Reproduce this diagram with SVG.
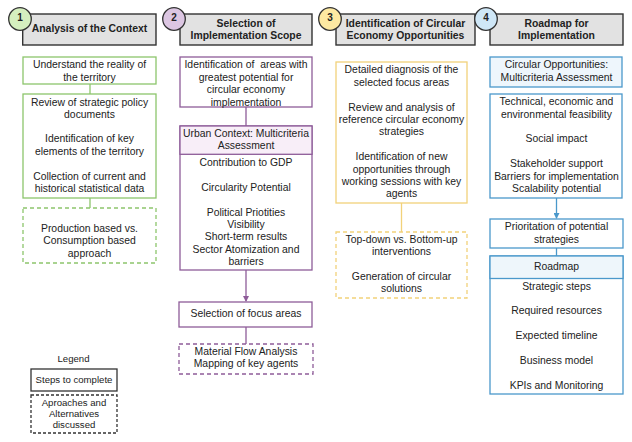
<svg xmlns="http://www.w3.org/2000/svg" width="632" height="442" viewBox="0 0 632 442">
<style>
text{font-family:"Liberation Sans",Arial,sans-serif;font-size:10.4px;fill:#222;text-anchor:middle}
.h{font-weight:bold;font-size:10.4px}
.n{font-weight:bold;font-size:10px}
.lg{font-size:9.6px}
.pre{white-space:pre}
.hdr{fill:#e2e2e2;stroke:#333;stroke-width:1.4}
.circ{stroke:#333;stroke-width:1.3}
.g{fill:#fff;stroke:#8dc56c;stroke-width:1.3}
.p{fill:#fff;stroke:#8e5c99;stroke-width:1.3}
.y{fill:#fff;stroke:#f2d27a;stroke-width:1.3}
.b{fill:#fff;stroke:#4a98cb;stroke-width:1.3}
.d{stroke-dasharray:4 3}
.cg{stroke:#8dc56c;stroke-width:1.3;fill:none}
.cp{stroke:#8e5c99;stroke-width:1.3;fill:none}
.cy{stroke:#f2d27a;stroke-width:1.3;fill:none}
.cb{stroke:#4a98cb;stroke-width:1.3;fill:none}
</style>
<defs>
<marker id="ap" markerWidth="6" markerHeight="6" refX="5" refY="3" orient="auto" markerUnits="userSpaceOnUse"><path d="M0,0 L6,3 L0,6 Z" fill="#8e5c99"/></marker>
<marker id="ab" markerWidth="6" markerHeight="6" refX="5" refY="3" orient="auto" markerUnits="userSpaceOnUse"><path d="M0,0 L6,3 L0,6 Z" fill="#4a98cb"/></marker>
</defs>
<rect width="632" height="442" fill="#fff"/>

<g id="connectors">
<line class="cg" x1="90" y1="84" x2="90" y2="94"/>
<line class="cg" x1="90" y1="198" x2="90" y2="208"/>
<line class="cp" x1="246" y1="107" x2="246" y2="126"/>
<line class="cp" x1="246" y1="270" x2="246" y2="301" marker-end="url(#ap)"/>
<line class="cp" x1="246" y1="327" x2="246" y2="344"/>
<line class="cy" x1="401.5" y1="203" x2="401.5" y2="232"/>
<line class="cb" x1="556.5" y1="198" x2="556.5" y2="218" marker-end="url(#ab)"/>
<line class="cb" x1="556.5" y1="248" x2="556.5" y2="256"/>
</g>

<g id="header1">
<rect class="hdr" x="22.7" y="14" width="133.3" height="31"/>
<circle class="circ" cx="20" cy="19" r="11.3" fill="#d5efbf"/>
<text class="n" x="20" y="20.5">1</text>
<text class="h" x="89.5" y="32">Analysis of the Context</text>
</g>
<g id="header2">
<rect class="hdr" x="180" y="14" width="132" height="31"/>
<circle class="circ" cx="174" cy="19" r="11.3" fill="#dcc6e2"/>
<text class="n" x="174" y="20.5">2</text>
<text class="h" x="246" y="26.5">Selection of</text>
<text class="h" x="246" y="38.5">Implementation Scope</text>
</g>
<g id="header3">
<rect class="hdr" x="336" y="14" width="139" height="31"/>
<circle class="circ" cx="330" cy="19" r="11.3" fill="#fde9a2"/>
<text class="n" x="330" y="20.5">3</text>
<text class="h" x="405.5" y="26.5">Identification of Circular</text>
<text class="h" x="405.5" y="38.5">Economy Opportunities</text>
</g>
<g id="header4">
<rect class="hdr" x="490" y="14" width="133" height="31"/>
<circle class="circ" cx="486" cy="19" r="11.3" fill="#cfe7f7"/>
<text class="n" x="486" y="20.5">4</text>
<text class="h" x="556.5" y="26.5">Roadmap for</text>
<text class="h" x="556.5" y="38.5">Implementation</text>
</g>

<g id="c1-understand">
<rect class="g" x="23" y="57" width="133" height="27"/>
<text x="89.5" y="68">Understand the reality of</text>
<text x="89.5" y="80.5">the territory</text>
</g>
<g id="c1-review">
<rect class="g" x="23" y="94" width="133" height="104"/>
<text x="89.5" y="105.5">Review of strategic policy</text>
<text x="89.5" y="118">documents</text>
<text x="89.5" y="142">Identification of key</text>
<text x="89.5" y="155">elements of the territory</text>
<text x="89.5" y="179.5">Collection of current and</text>
<text x="89.5" y="192">historical statistical data</text>
</g>
<g id="c1-approach">
<rect class="g d" x="23" y="208" width="133" height="55"/>
<text x="89.5" y="231.5">Production based vs.</text>
<text x="89.5" y="244">Consumption based</text>
<text x="89.5" y="256.5">approach</text>
</g>

<g id="c2-areas">
<rect class="p" x="180" y="57" width="132" height="50"/>
<text class="pre" x="246" y="68">Identification of  areas with</text>
<text x="246" y="80.5">greatest potential for</text>
<text x="246" y="93">circular economy</text>
<text x="246" y="105.5">implementation</text>
</g>
<g id="c2-urban">
<rect class="p" x="180" y="126" width="132" height="144"/>
<rect x="180" y="126" width="132" height="28.3" fill="#f8eef8" stroke="#8e5c99" stroke-width="1.3"/>
<text x="246" y="136.5">Urban Context: Multicriteria</text>
<text x="246" y="149">Assessment</text>
<text x="246" y="166">Contribution to GDP</text>
<text x="246" y="190.5">Circularity Potential</text>
<text x="246" y="215.5">Political Priotities</text>
<text x="246" y="228">Visibility</text>
<text x="246" y="240">Short-term results</text>
<text x="246" y="252.5">Sector Atomization and</text>
<text x="246" y="265">barriers</text>
</g>
<g id="c2-focus">
<rect class="p" x="179" y="302" width="133" height="25"/>
<text x="246" y="317">Selection of focus areas</text>
</g>
<g id="c2-mfa">
<rect class="p d" x="179" y="344" width="134" height="30"/>
<text x="246" y="355">Material Flow Analysis</text>
<text x="246" y="367">Mapping of key agents</text>
</g>

<g id="c3-diagnosis">
<rect class="y" x="336" y="62" width="131" height="141"/>
<text x="401.5" y="73">Detailed diagnosis of the</text>
<text x="401.5" y="85.5">selected focus areas</text>
<text x="401.5" y="110.5">Review and analysis of</text>
<text x="401.5" y="123">reference circular economy</text>
<text x="401.5" y="135">strategies</text>
<text x="401.5" y="160">Identification of new</text>
<text x="401.5" y="172.5">opportunities through</text>
<text x="401.5" y="185">working sessions with key</text>
<text x="401.5" y="197">agents</text>
</g>
<g id="c3-topdown">
<rect class="y d" x="336" y="232" width="131" height="66"/>
<text x="401.5" y="243">Top-down vs. Bottom-up</text>
<text x="401.5" y="255">interventions</text>
<text x="401.5" y="280">Generation of circular</text>
<text x="401.5" y="292">solutions</text>
</g>

<g id="c4-opps">
<rect x="490" y="57" width="132" height="30" fill="#eef6fc" stroke="#4a98cb" stroke-width="1.3"/>
<text x="556.5" y="68">Circular Opportunities:</text>
<text x="556.5" y="80.5">Multicriteria Assessment</text>
</g>
<g id="c4-feasibility">
<rect class="b" x="490" y="94" width="132" height="104"/>
<text x="556.5" y="105">Technical, economic and</text>
<text x="556.5" y="117.5">environmental feasibility</text>
<text x="556.5" y="142">Social impact</text>
<text x="556.5" y="167">Stakeholder support</text>
<text x="556.5" y="179.5">Barriers for implementation</text>
<text x="556.5" y="192">Scalability potential</text>
</g>
<g id="c4-prior">
<rect class="b" x="490" y="219" width="133" height="29"/>
<text x="556.5" y="230">Prioritation of potential</text>
<text x="556.5" y="243">strategies</text>
</g>
<g id="c4-roadmap">
<rect class="b" x="490" y="256" width="133" height="138"/>
<rect x="490" y="256" width="133" height="22.5" fill="#eef6fb" stroke="#4a98cb" stroke-width="1.3"/>
<text x="556.5" y="269.5">Roadmap</text>
<text x="556.5" y="289.5">Strategic steps</text>
<text x="556.5" y="314">Required resources</text>
<text x="556.5" y="339">Expected timeline</text>
<text x="556.5" y="364">Business model</text>
<text x="556.5" y="389">KPIs and Monitoring</text>
</g>

<g id="legend">
<text class="lg" x="73.5" y="362">Legend</text>
<rect x="31" y="369" width="86" height="22" fill="#fff" stroke="#333" stroke-width="1.3"/>
<text class="lg" x="74" y="383">Steps to complete</text>
<rect x="31" y="395" width="86" height="38" fill="#fff" stroke="#333" stroke-width="1.3" stroke-dasharray="3 2"/>
<text class="lg" x="74" y="405.5">Aproaches and</text>
<text class="lg" x="74" y="417">Alternatives</text>
<text class="lg" x="74" y="428">discussed</text>
</g>
</svg>
